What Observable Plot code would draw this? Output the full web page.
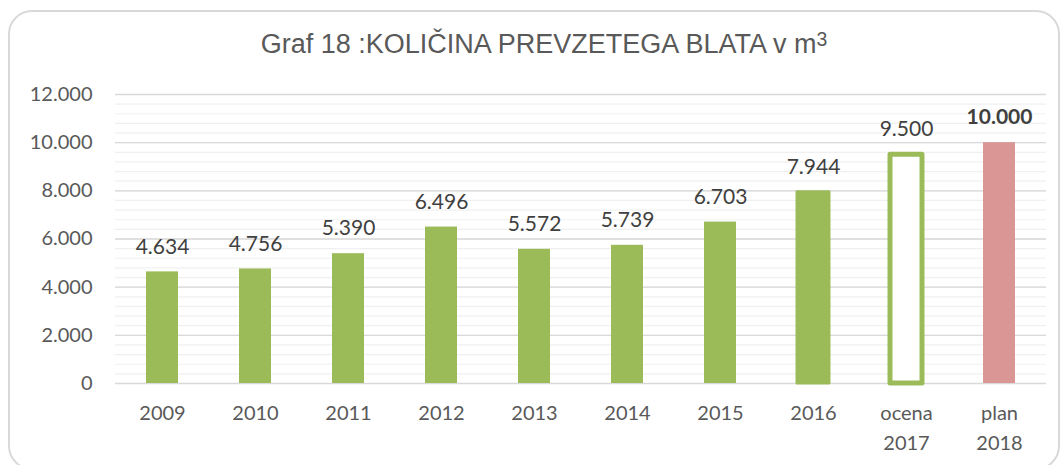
<!DOCTYPE html>
<html>
<head>
<meta charset="utf-8">
<script src="https://cdn.jsdelivr.net/npm/d3@7"></script>
<script src="https://cdn.jsdelivr.net/npm/@observablehq/plot@0.6"></script>
<style>
  html, body { margin: 0; padding: 0; background: #fff; }
  #wrap { position: relative; width: 1062px; height: 465px; overflow: hidden; background: #fff; }
  #frame { position: absolute; left: 8px; top: 10px; width: 1052px; height: 460px; border: 2px solid #d9d9d9; border-radius: 24px; box-sizing: border-box; }
  #title { position: absolute; left: 0; top: 31px; width: 1088px; text-align: center; font-family: "Liberation Sans", Arial, sans-serif; font-size: 27px; line-height: 27px; color: #595959; white-space: nowrap; }
  #title .sup { font-size: 0.72em; position: relative; top: -0.38em; }
  #chart { position: absolute; left: 0; top: 0; }
</style>
</head>
<body>
<div id="wrap">
  <div id="frame"></div>
  <div id="title">Graf 18 :KOLIČINA PREVZETEGA BLATA v m<span class="sup">3</span></div>
  <div id="chart"></div>
</div>
<script>
// ---- data ----
const categories = ["2009", "2010", "2011", "2012", "2013", "2014", "2015", "2016", "ocena\n2017", "plan\n2018"];
const values = [4634, 4756, 5390, 6496, 5572, 5739, 6703, 7944, 9500, 10000];
const yTicks = [0, 2000, 4000, 6000, 8000, 10000, 12000];
const minorTicks = d3.range(0, 12001, 400);

const data = categories.map((c, i) => ({cat: c, value: values[i]}));
const isPlan = d => d.cat.startsWith("plan");

const locale = d3.formatLocale({decimal: ",", thousands: ".", grouping: [3], currency: ["", "€"]});
const fmt = locale.format(",d");

const green = "#9bbb59";
const pink = "#da9694";
const fillOf = d => isPlan(d) ? pink : d.cat.startsWith("ocena") ? "#ffffff" : green;
const strokeOf = d => (d.cat.startsWith("ocena") || d.cat === "2016") ? green : "none";
const strokeWidthOf = d => d.cat.startsWith("ocena") ? 5 : d.cat === "2016" ? 3 : 0;

const chart = Plot.plot({
  width: 1062,
  height: 465,
  marginLeft: 115,
  marginRight: 16,
  marginTop: 94,
  marginBottom: 82,
  style: {fontFamily: "Lato, sans-serif", fontSize: "20px", color: "#595959", background: "transparent"},
  x: {domain: categories, paddingInner: 0.66, paddingOuter: 0.33, axis: null},
  y: {domain: [0, 12000], axis: null},
  marks: [
    Plot.ruleY(minorTicks, {stroke: "#f0f0f0", strokeWidth: 1.2}),
    Plot.ruleY(yTicks, {stroke: "#d9d9d9", strokeWidth: 1.4}),
    Plot.barY(data, {x: "cat", y: "value", fill: fillOf, stroke: strokeOf, strokeWidth: strokeWidthOf, strokeLinejoin: "round"}),
    Plot.text(data.filter(d => !isPlan(d)), {x: "cat", y: "value", text: d => fmt(d.value), dy: -25, lineAnchor: "middle",
      fontSize: 21, fill: "#404040"}),
    Plot.text(data.filter(isPlan), {x: "cat", y: "value", text: d => fmt(d.value), dy: -25, lineAnchor: "middle",
      fontSize: 21, fill: "#404040", fontWeight: "bold"}),
    Plot.axisY({ticks: yTicks, tickSize: 0, tickPadding: 23, tickFormat: fmt, fontSize: 20, fill: "#595959", label: null}),
    Plot.text(categories, {x: d => d, text: d => d.split("\n")[0], frameAnchor: "bottom", dy: 30, lineAnchor: "middle", fontSize: 20, fill: "#595959"}),
    Plot.text(categories, {x: d => d, text: d => d.split("\n")[1] || "", frameAnchor: "bottom", dy: 60, lineAnchor: "middle", fontSize: 20, fill: "#595959"})
  ]
});
document.getElementById("chart").appendChild(chart);
</script>
</body>
</html>
